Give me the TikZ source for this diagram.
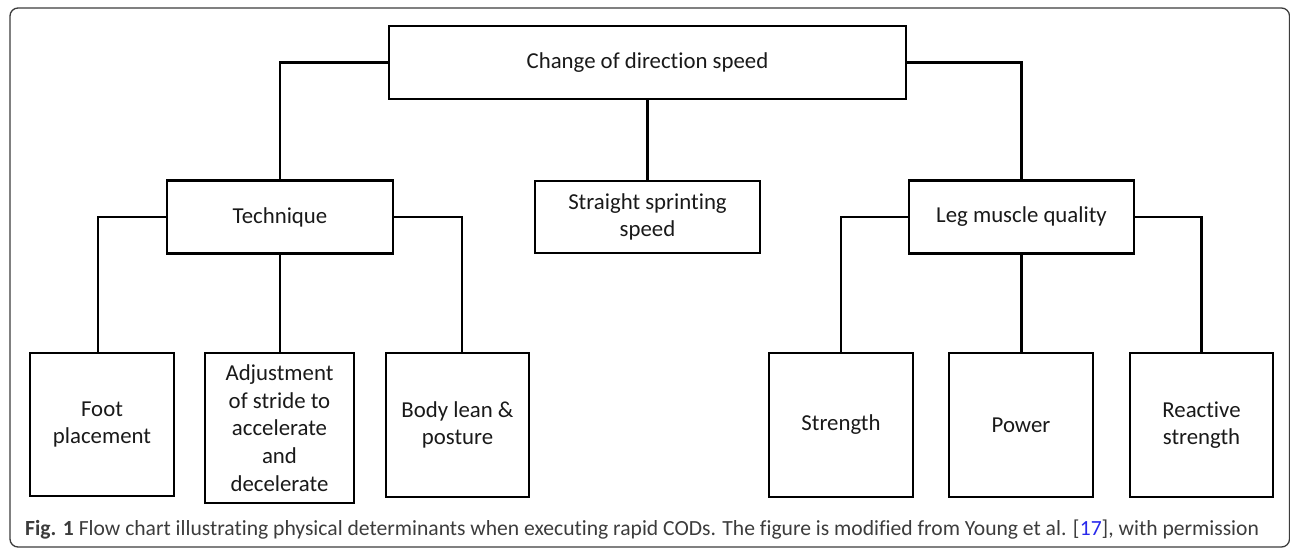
\documentclass[tikz,border=0pt]{standalone}
\usepackage{fontspec}
\setmainfont[Ligatures=NoCommon]{Carlito}
\definecolor{capgray}{RGB}{60,60,60}
\definecolor{refblue}{RGB}{40,40,235}
\definecolor{framegray}{RGB}{60,60,60}
\tikzset{
  boxnode/.style={draw=black, line width=2.6pt, inner sep=0pt, align=center,
    font=\fontsize{22.8}{27.6}\selectfont, text=black!90},
  link/.style={draw=black, line width=2.6pt},
  frameline/.style={draw=framegray, line width=1.3pt, rounded corners=8pt}
}
\begin{document}
\begin{tikzpicture}[x=1pt,y=-1pt]
\useasboundingbox (0,0) rectangle (1290,548);
\draw[frameline] (10,8) rectangle (1289.5,547);

\node[boxnode, minimum width=517pt, minimum height=73pt] (top) at (647.5,62.5) {Change of direction speed};
\node[boxnode, minimum width=226pt, minimum height=73pt] (tech) at (280,217) {Technique};
\node[boxnode, minimum width=225pt, minimum height=72pt] (straight) at (647.5,217) {Straight sprinting\\speed};
\node[boxnode, minimum width=225pt, minimum height=73pt] (leg) at (1021.5,217) {Leg muscle quality};

\node[boxnode, minimum width=144pt, minimum height=143pt] (foot) at (102,424.5) {Foot\\placement};
\node[boxnode, minimum width=149pt, minimum height=150pt] (adjust) at (279.5,428) {Adjustment\\of stride to\\accelerate\\and\\decelerate};
\node[boxnode, minimum width=143pt, minimum height=144pt] (body) at (457.5,425) {Body lean \&\\posture};
\node[boxnode, minimum width=144pt, minimum height=144pt] (strength) at (841,425) {Strength};
\node[boxnode, minimum width=144pt, minimum height=144pt] (power) at (1021,425) {Power};
\node[boxnode, minimum width=143pt, minimum height=144pt] (reactive) at (1201.5,425) {Reactive\\strength};

\draw[link] (top.west) -| (tech.north);
\draw[link] (top.south) -- (straight.north);
\draw[link] (top.east) -| (leg.north);

\draw[link] (tech.west) -| ([xshift=-4pt]foot.north);
\draw[link] (tech.south) -- (tech.south |- adjust.north);
\draw[link] (tech.east) -| ([xshift=4.5pt]body.north);

\draw[link] (leg.west) -| (strength.north);
\draw[link] (leg.south) -- (leg.south |- power.north);
\draw[link] (leg.east) -| (reactive.north);

\node[anchor=west, inner sep=0pt, text=capgray, font=\fontsize{21.6}{26}\selectfont] (caption) at (25,530)
  {\textbf{Fig. 1} Flow chart illustrating physical determinants when executing rapid CODs. The figure is modified from Young et al. [\textcolor{refblue}{17}], with permission};
\end{tikzpicture}
\end{document}
